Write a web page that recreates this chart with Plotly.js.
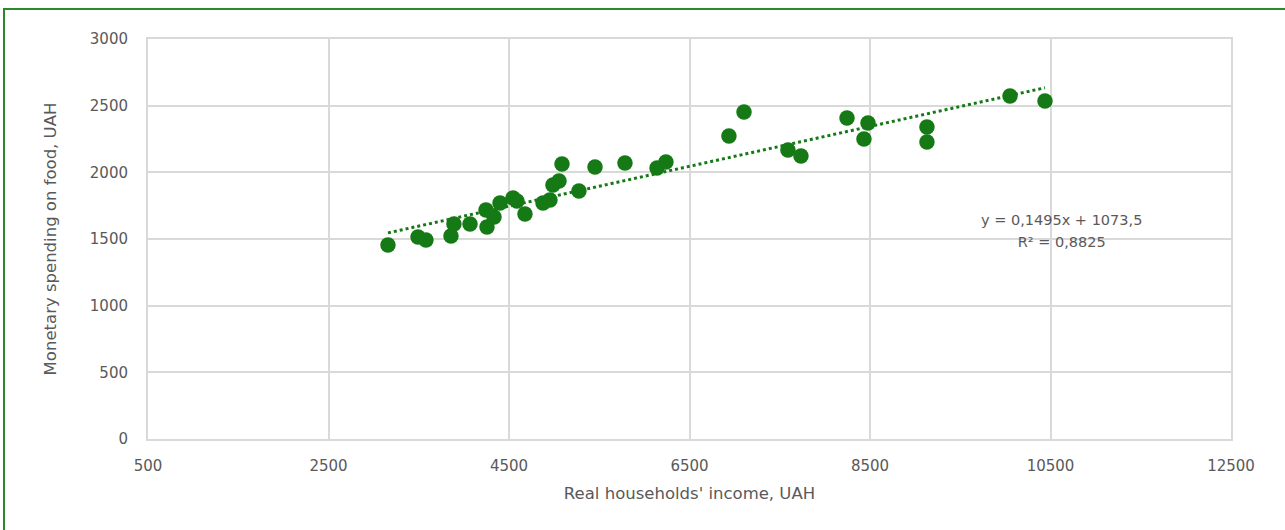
<!DOCTYPE html>
<html>
<head>
<meta charset="utf-8">
<script src="https://cdn.plot.ly/plotly-3.0.1.min.js"></script>
<style>
  html, body { margin: 0; padding: 0; background: #ffffff; overflow: hidden; }
  #chart { width: 1285px; height: 530px; position: absolute; left: 0; top: 0; }
  #frame { position: absolute; left: 3px; top: 8px; width: 1400px; height: 600px;
           border: 2px solid #2a8a2a; pointer-events: none; }
</style>
</head>
<body>
<div id="chart"></div>
<div id="frame"></div>
<script>
// Real households' income, UAH
const income = [3159, 3492, 3580, 3857, 3890, 4068, 4245, 4256, 4334, 4400,
                4544, 4588, 4677, 4877, 4954, 4987, 5054, 5087, 5275, 5453,
                5785, 6140, 6239, 6937, 7104, 7591, 7735, 8245, 8478, 8433,
                9131, 9131, 10051, 10439];
// Monetary spending on food, UAH
const spending = [1455, 1515, 1493, 1522, 1612, 1612, 1717, 1590, 1665, 1770,
                  1807, 1785, 1687, 1770, 1792, 1905, 1935, 2062, 1860, 2040,
                  2070, 2032, 2077, 2272, 2452, 2167, 2122, 2407, 2370, 2250,
                  2340, 2227, 2572, 2535];
// Linear trend as stated on the chart
const trendSlope = 0.1495;
const trendIntercept = 1073.5;
const trendLabel = "y = 0,1495x + 1073,5<br>R² = 0,8825";
const xTicks = [500, 2500, 4500, 6500, 8500, 10500, 12500];
const yTicks = [0, 500, 1000, 1500, 2000, 2500, 3000];

const green = '#157a15';
const xMin = Math.min(...income), xMax = Math.max(...income);
const trendX = [xMin, xMax];
const trendY = trendX.map(v => trendSlope * v + trendIntercept);

const data = [
  {
    x: income, y: spending, type: 'scatter', mode: 'markers',
    marker: { color: green, size: 15.5, line: { width: 0 } },
    hoverinfo: 'x+y', showlegend: false
  },
  {
    x: trendX, y: trendY, type: 'scatter', mode: 'lines',
    line: { color: green, width: 3, dash: 'dot' },
    hoverinfo: 'skip', showlegend: false
  }
];

const fam = 'DejaVu Sans, Verdana, sans-serif';
const tickFont = { family: fam, size: 15, color: '#595959' };
const titleFont = { family: fam, size: 16.5, color: '#595959' };

const layout = {
  width: 1285, height: 530,
  margin: { l: 148, r: 54, t: 39, b: 91 },
  paper_bgcolor: '#ffffff', plot_bgcolor: '#ffffff',
  font: tickFont,
  xaxis: {
    range: [500, 12500], tickvals: xTicks, ticktext: xTicks.map(String),
    showgrid: true, gridcolor: '#d9d9d9', gridwidth: 2,
    zeroline: false, showline: true, linecolor: '#d9d9d9', linewidth: 2, mirror: true,
    ticks: 'outside', ticklen: 12, tickcolor: 'rgba(0,0,0,0)',
    tickfont: tickFont,
    title: { text: "Real households' income, UAH", font: titleFont, standoff: 13 }
  },
  yaxis: {
    range: [0, 3000], tickvals: yTicks, ticktext: yTicks.map(String),
    showgrid: true, gridcolor: '#d9d9d9', gridwidth: 2,
    zeroline: false, showline: true, linecolor: '#d9d9d9', linewidth: 2, mirror: true,
    ticks: 'outside', ticklen: 15, tickcolor: 'rgba(0,0,0,0)',
    tickfont: tickFont,
    title: { text: 'Monetary spending on food, UAH', font: titleFont, standoff: 29 }
  },
  annotations: [{
    x: 10627, y: 1575, xref: 'x', yref: 'y',
    text: trendLabel, showarrow: false, align: 'center',
    font: { family: fam, size: 14.5, color: '#595959' },
    xanchor: 'center', yanchor: 'middle'
  }]
};

Plotly.newPlot('chart', data, layout, { displayModeBar: false, staticPlot: true }).then(() => {
  // widen the line spacing of the equation label to match the original
  document.querySelectorAll('.annotation-text tspan.line').forEach((t, i) => {
    if (i > 0) t.setAttribute('dy', '22');
  });
});
</script>
</body>
</html>
